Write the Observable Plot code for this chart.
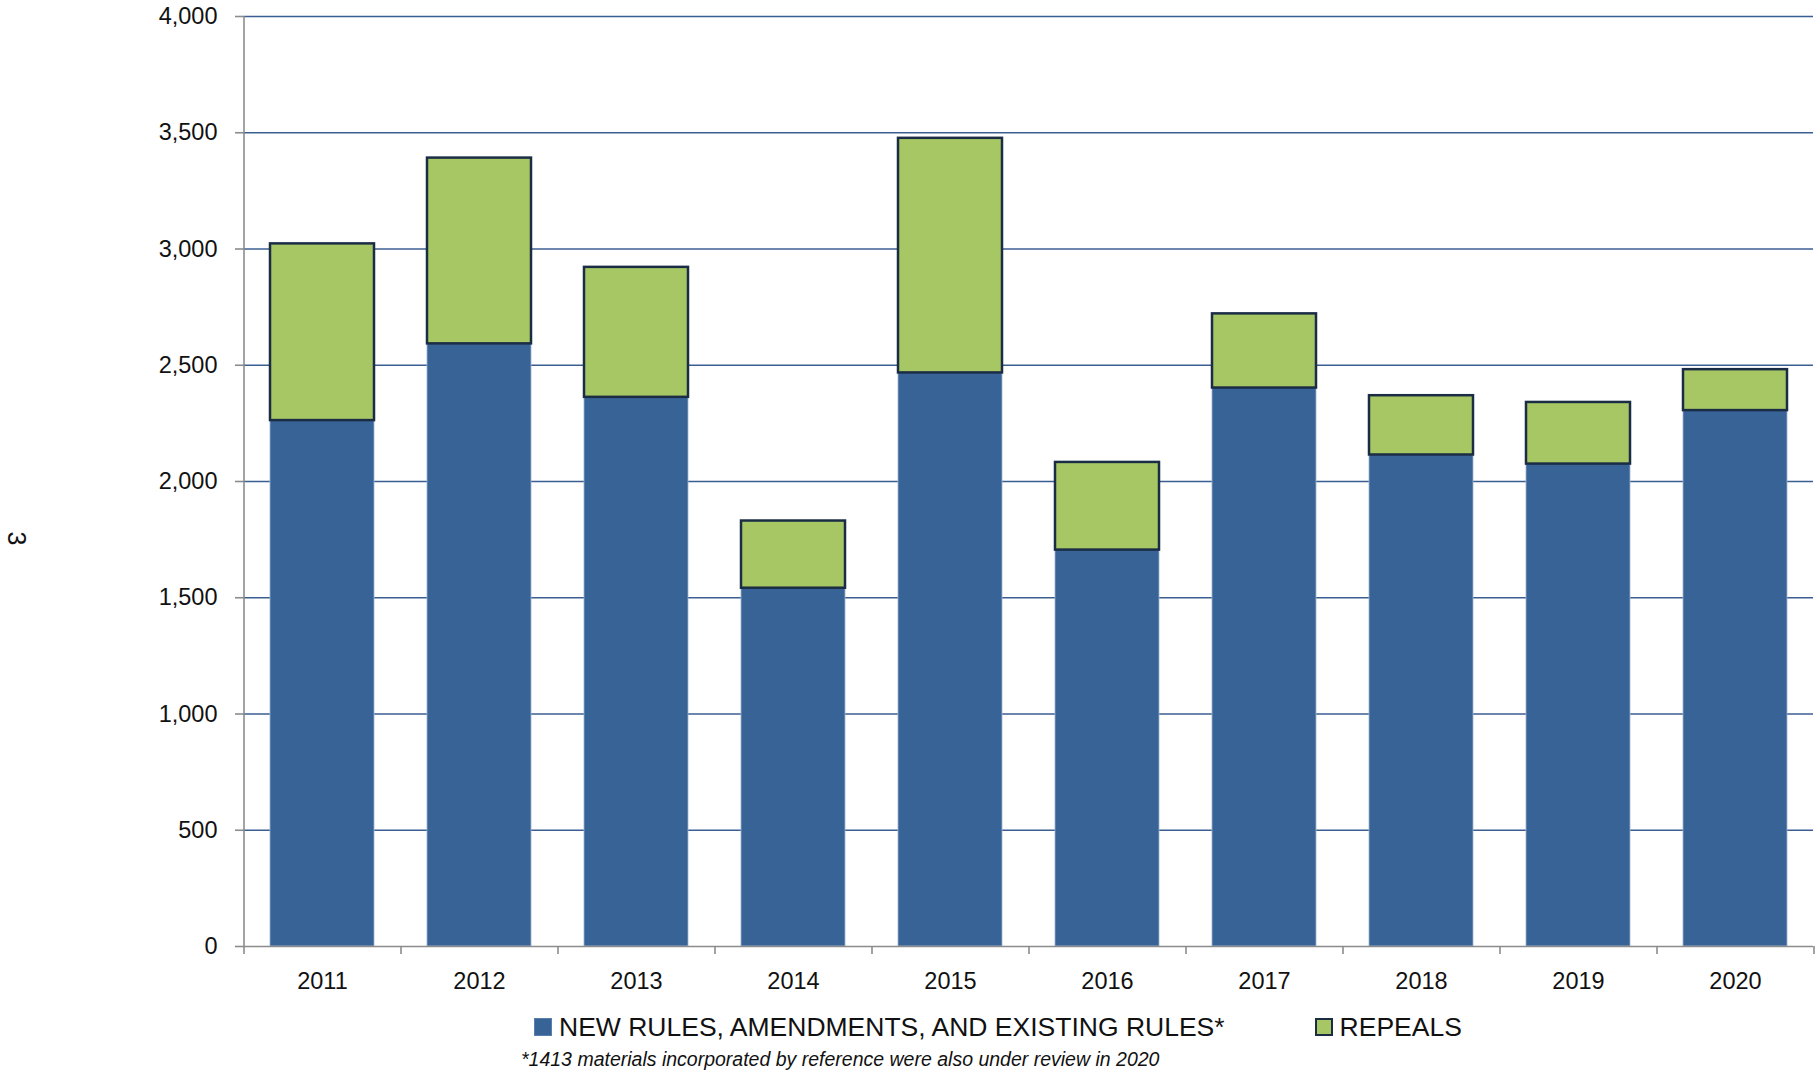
<!DOCTYPE html>
<html>
<head>
<meta charset="utf-8">
<script src="https://cdn.jsdelivr.net/npm/d3@7"></script>
<script src="https://cdn.jsdelivr.net/npm/@observablehq/plot@0.6"></script>
<style>
  body { margin: 0; background: #fff; font-family: "Liberation Sans", Arial, sans-serif; }
  #wrap { position: relative; width: 1817px; height: 1073px; overflow: hidden; background: #fff; }
  #chart { position: absolute; left: 0; top: 0; }
  .legend { position: absolute; top: 1010px; left: 534px; display: flex; align-items: center; font-size: 26.5px; color: #111; white-space: nowrap; line-height: 34px; }
  .item { display: flex; align-items: center; }
  .sw { width: 18px; height: 18px; display: inline-block; margin-right: 7px; box-sizing: border-box; }
  .note { position: absolute; top: 1048px; left: 521px; font-style: italic; font-size: 19.5px; color: #111; white-space: nowrap; }
  .pg { position: absolute; left: 10px; top: 524px; font-size: 25px; color: #111; transform: rotate(90deg); transform-origin: center; }
</style>
</head>
<body>
<div id="wrap">
  <div id="chart"></div>
  <div class="pg">3</div>
  <div class="legend" id="legend"></div>
  <div class="note" id="note"></div>
</div>
<script>
const years = ["2011", "2012", "2013", "2014", "2015", "2016", "2017", "2018", "2019", "2020"];
const newRules = [2262, 2592, 2362, 1541, 2467, 1705, 2402, 2114, 2075, 2305];
const repeals = [760, 799, 559, 289, 1009, 377, 319, 255, 265, 176];
const seriesNames = ["NEW RULES, AMENDMENTS, AND EXISTING RULES*", "REPEALS"];
const seriesColors = ["#386396", "#A7C764"];
const yTicks = [0, 500, 1000, 1500, 2000, 2500, 3000, 3500, 4000];
const footnote = "*1413 materials incorporated by reference were also under review in 2020";

const blueRows = years.map((year, i) => ({year, series: seriesNames[0], base: 0, top: newRules[i]}));
const greenRows = years.map((year, i) => ({year, series: seriesNames[1], base: newRules[i], top: newRules[i] + repeals[i]}));

const W = 1817, H = 1003, mL = 243, mR = 4, mT = 16, mB = 57;
const step = (W - mL - mR) / years.length;

const chart = Plot.plot({
  width: W, height: H,
  marginLeft: mL, marginRight: mR, marginTop: mT, marginBottom: mB,
  style: { fontFamily: "'Liberation Sans', Arial, sans-serif", fontSize: "23.5px", color: "#111", background: "#fff" },
  x: { domain: years, paddingInner: 0.34, paddingOuter: 0.17, label: null, axis: null },
  y: { domain: [0, 4000], label: null, axis: null },
  color: { domain: seriesNames, range: seriesColors },
  marks: [
    Plot.ruleY(yTicks.filter(d => d > 0), { stroke: "#3B5E92", strokeWidth: 1.6 }),
    Plot.barY(blueRows, { x: "year", y1: "base", y2: "top", fill: "series", stroke: "#9DB3CF", strokeWidth: 0.8 }),
    Plot.barY(greenRows, { x: "year", y1: "base", y2: "top", fill: "series", stroke: "#1B2C45", strokeWidth: 2.5 }),
    Plot.ruleY([0], { stroke: "#8C8C8C", strokeWidth: 1.6 }),
    Plot.tickX([years[0]], { x: d => d, dx: -step / 2, stroke: "#8C8C8C", strokeWidth: 1.6 }),
    Plot.axisY({ ticks: yTicks, tickFormat: d3.format(","), tickSize: 8, tickPadding: 18, stroke: "#8C8C8C", strokeWidth: 1.6 }),
    Plot.axisX({ tickSize: 0, tickPadding: 26 }),
    Plot.axisX({ tickSize: 8, dx: -step / 2, tickFormat: () => "", stroke: "#8C8C8C", strokeWidth: 1.6 }),
    Plot.axisX({ ticks: [years[years.length - 1]], tickSize: 8, dx: step / 2, tickFormat: () => "", stroke: "#8C8C8C", strokeWidth: 1.6 })
  ]
});
document.getElementById("chart").appendChild(chart);

const legend = document.getElementById("legend");
seriesNames.forEach((name, i) => {
  const item = document.createElement("span");
  item.className = "item";
  if (i > 0) item.style.marginLeft = "90px";
  const sw = document.createElement("span");
  sw.className = "sw";
  sw.style.background = seriesColors[i];
  sw.style.border = i === 1 ? "2.5px solid #1B2C45" : "1px solid #5A7FAE";
  item.appendChild(sw);
  item.appendChild(document.createTextNode(name));
  legend.appendChild(item);
});
document.getElementById("note").textContent = footnote;
</script>
</body>
</html>
